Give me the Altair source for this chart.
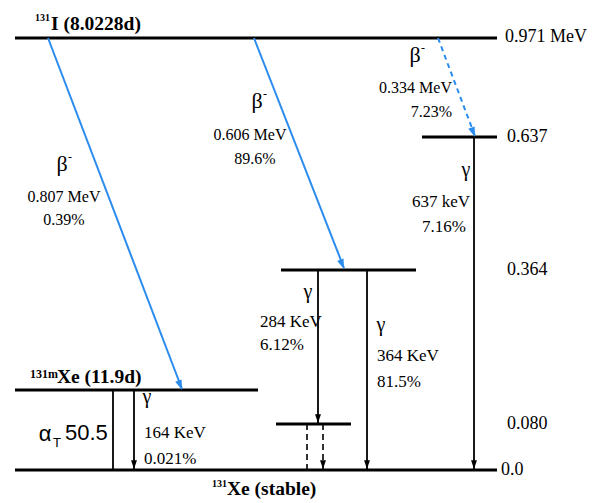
import math
import altair as alt
import pandas as pd

# ---------------- data (diagram coordinates) ----------------
# energy levels: horizontal bars
level_name = ["131I", "0.637", "0.364", "0.080", "131Xe", "131mXe"]
level_y = [38, 137, 270, 424, 470, 390]
level_x1 = [15, 422, 281, 276, 15, 15]
level_x2 = [497, 497, 416, 351, 497, 258]

# level energy tags on the right
tag_text = ["0.971 MeV", "0.637", "0.364", "0.080", "0.0"]
tag_x = [505, 507, 507, 507, 501]
tag_y = [37, 137, 270, 424, 470]

# beta transitions (from 131I level down to daughter levels)
beta_x1 = [48, 254, 438]
beta_y1 = [38, 38, 38]
beta_x2 = [182, 344, 475]
beta_y2 = [389, 268, 136]
beta_dashed = [False, False, True]

# gamma transitions (vertical)
gamma_x = [474, 318, 367, 134, 323, 307, 113]
gamma_y1 = [137, 270, 270, 390, 424, 424, 390]
gamma_y2 = [469, 423, 469, 469, 469, 470, 470]
gamma_arrow = [True, True, True, True, True, False, False]
gamma_dashed = [False, False, False, False, True, True, False]

# beta labels
beta_lab_text = ["0.807 MeV", "0.39%", "0.606 MeV", "89.6%"]
beta_lab_x = [64, 64, 250, 255]
beta_lab_y = [197, 220, 135, 159]
beta_lab_r_text = ["0.334 MeV", "7.23%"]
beta_lab_r_x = [452, 452]
beta_lab_r_y = [88, 112]
beta_sym_x = [62, 257, 415]
beta_sym_y = [164, 101, 55]

# gamma labels
g_left_text = ["284 KeV", "6.12%", "364 KeV", "81.5%", "164 KeV", "0.021%"]
g_left_x = [260, 260, 377, 377, 144, 144]
g_left_y = [322, 345, 356, 382, 433, 459]
g_right_text = ["637 keV", "7.16%"]
g_right_x = [470, 466]
g_right_y = [202, 227]
gamma_sym_x = [466, 308, 381, 147]
gamma_sym_y = [170, 292, 325, 397]

# nuclide titles
nuc_text = ["I (8.0228d)", "Xe (11.9d)", "Xe (stable)"]
nuc_x = [51, 57, 227]
nuc_y = [29.5, 383, 495]
sup_text = ["131", "131m", "131"]
sup_x = [35, 30, 212]
sup_y = [21, 378, 487]
sup_size = [10, 12, 10]

BLUE = "#2b8cee"
SERIF = "Liberation Serif"

x_scale = alt.Scale(domain=[8, 590], nice=False, zero=False)
y_scale = alt.Scale(domain=[8, 503], nice=False, zero=False, reverse=True)
X = lambda f: alt.X(f, scale=x_scale, axis=None)
Y = lambda f: alt.Y(f, scale=y_scale, axis=None)

levels = pd.DataFrame({"name": level_name, "y": level_y, "x1": level_x1, "x2": level_x2})
beta = pd.DataFrame({"x1": beta_x1, "y1": beta_y1, "x2": beta_x2, "y2": beta_y2, "dashed": beta_dashed})
gamma = pd.DataFrame({"x": gamma_x, "y1": gamma_y1, "y2": gamma_y2,
                      "arrow": gamma_arrow, "dashed": gamma_dashed})

# arrow heads: direction angles derived from transition geometry
heads = []
for r in beta.itertuples():
    ang = math.degrees(math.atan2(-(r.x2 - r.x1), (r.y2 - r.y1))) % 360
    heads.append({"x": r.x2, "y": r.y2 + 1, "angle": ang, "kind": "beta"})
for r in gamma.itertuples():
    if r.arrow:
        heads.append({"x": r.x, "y": r.y2, "angle": 0.0, "kind": "gamma"})
heads = pd.DataFrame(heads)

level_layer = alt.Chart(levels).mark_rule(color="black", strokeWidth=3).encode(
    x=X("x1:Q"), x2="x2:Q", y=Y("y:Q"))

beta_solid = alt.Chart(beta[~beta.dashed]).mark_rule(color=BLUE, strokeWidth=2).encode(
    x=X("x1:Q"), y=Y("y1:Q"), x2="x2:Q", y2="y2:Q")
beta_dash = alt.Chart(beta[beta.dashed]).mark_rule(color=BLUE, strokeWidth=2, strokeDash=[5, 4]).encode(
    x=X("x1:Q"), y=Y("y1:Q"), x2="x2:Q", y2="y2:Q")

gamma_solid = alt.Chart(gamma[~gamma.dashed]).mark_rule(color="black", strokeWidth=1.8).encode(
    x=X("x:Q"), y=Y("y1:Q"), y2="y2:Q")
gamma_dash = alt.Chart(gamma[gamma.dashed]).mark_rule(color="black", strokeWidth=1.6, strokeDash=[6, 4]).encode(
    x=X("x:Q"), y=Y("y1:Q"), y2="y2:Q")

HEAD = "M0,0L-0.34,-1L0.34,-1Z"
head_beta = alt.Chart(heads[heads.kind == "beta"]).mark_point(
    shape=HEAD, filled=True, color=BLUE, opacity=1, size=400).encode(
    x=X("x:Q"), y=Y("y:Q"), angle=alt.Angle("angle:Q", scale=None))
head_gamma = alt.Chart(heads[heads.kind == "gamma"]).mark_point(
    shape=HEAD, filled=True, color="black", opacity=1, size=300).encode(
    x=X("x:Q"), y=Y("y:Q"), angle=alt.Angle("angle:Q", scale=None))


def texts(t, xs, ys, **props):
    df = pd.DataFrame({"t": t, "x": xs, "y": ys})
    return alt.Chart(df).mark_text(**props).encode(x=X("x:Q"), y=Y("y:Q"), text="t:N")


sup_df = pd.DataFrame({"t": sup_text, "x": sup_x, "y": sup_y, "s": sup_size})
sup_layer = alt.Chart(sup_df).mark_text(
    font=SERIF, fontWeight="bold", align="left", baseline="alphabetic", color="black").encode(
    x=X("x:Q"), y=Y("y:Q"), text="t:N", size=alt.Size("s:Q", scale=None, legend=None))

layers = [
    level_layer, beta_solid, beta_dash, gamma_solid, gamma_dash, head_beta, head_gamma,
    texts(tag_text, tag_x, tag_y, font=SERIF, fontSize=18, align="left", baseline="middle", color="black"),
    texts(beta_lab_text, beta_lab_x, beta_lab_y, font=SERIF, fontSize=16, align="center", baseline="middle", color="black"),
    texts(beta_lab_r_text, beta_lab_r_x, beta_lab_r_y, font=SERIF, fontSize=16, align="right", baseline="middle", color="black"),
    texts(["β"] * 3, beta_sym_x, beta_sym_y, font=SERIF, fontSize=22, align="center", baseline="middle", color="black"),
    texts(["-"] * 3, [x + 8 for x in beta_sym_x], [y - 7 for y in beta_sym_y], font=SERIF, fontSize=12, align="center", baseline="middle", color="black"),
    texts(["γ"] * 4, gamma_sym_x, gamma_sym_y, font=SERIF, fontSize=20, align="center", baseline="middle", color="black"),
    texts(g_left_text, g_left_x, g_left_y, font=SERIF, fontSize=17, align="left", baseline="middle", color="black"),
    texts(g_right_text, g_right_x, g_right_y, font=SERIF, fontSize=17, align="right", baseline="middle", color="black"),
    texts(nuc_text, nuc_x, nuc_y, font=SERIF, fontSize=19.5, fontWeight="bold", align="left", baseline="alphabetic", color="black"),
    sup_layer,
    texts(["α"], [45], [434], font="Liberation Sans", fontSize=22, align="center", baseline="middle", color="black"),
    texts(["T"], [57], [443], font="Liberation Sans", fontSize=13, align="center", baseline="middle", color="black"),
    texts(["50.5"], [65], [433], font="Liberation Sans", fontSize=22, align="left", baseline="middle", color="black"),
]

chart = alt.layer(*layers).properties(
    width=582, height=495, autosize=alt.AutoSizeParams(type="none"), padding=0,
    background="white",
).configure_view(stroke=None)

chart.save("out.html", embed_options={"renderer": "svg", "actions": False})
